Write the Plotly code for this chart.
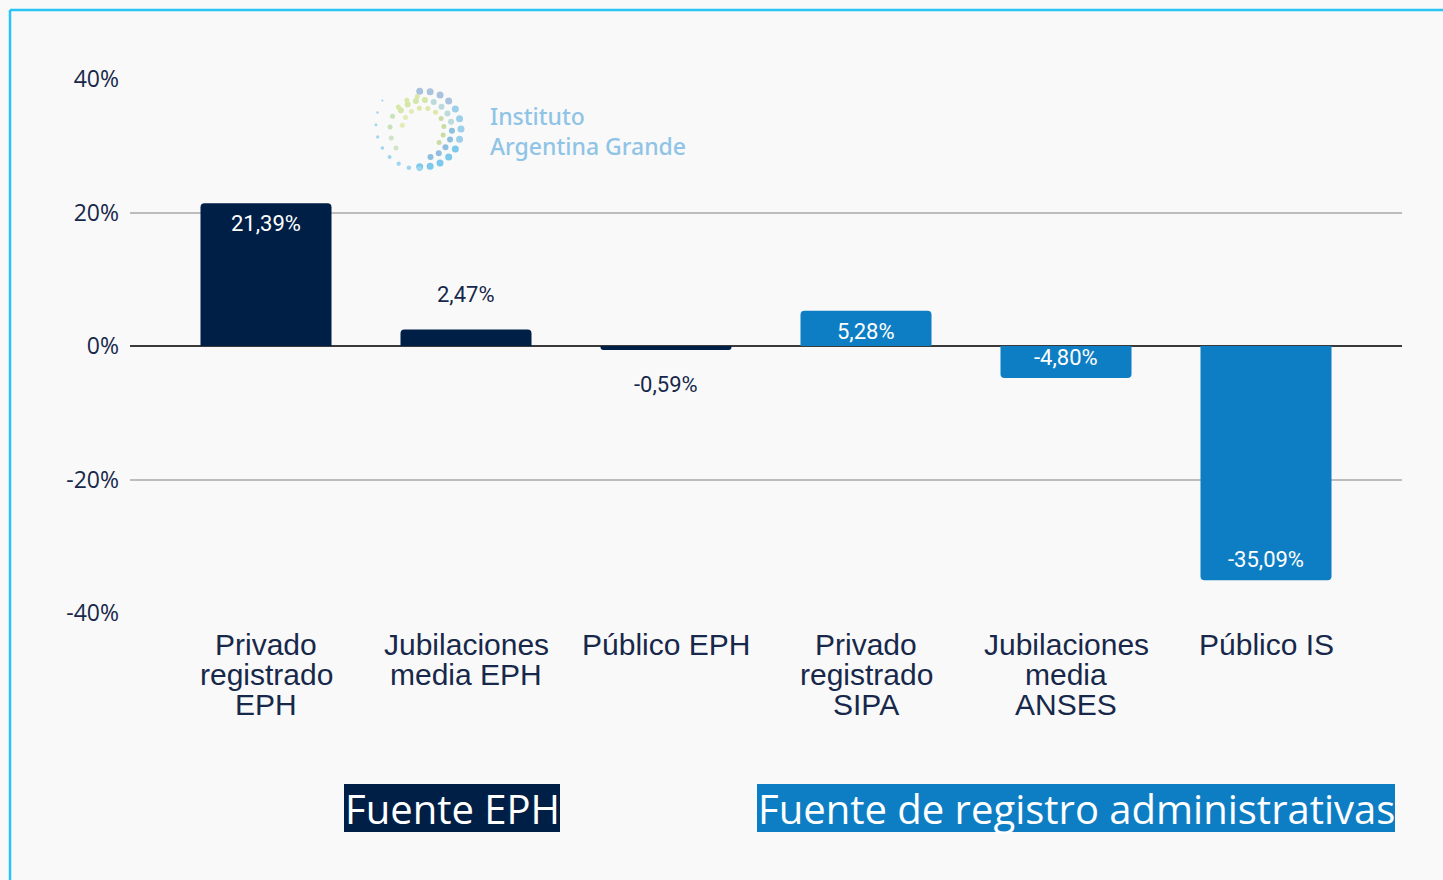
import math
import plotly.graph_objects as go

# ---------------- data ----------------
categories = ["Privado<br>registrado<br>EPH", "Jubilaciones<br>media EPH", "Público EPH",
              "Privado<br>registrado<br>SIPA", "Jubilaciones<br>media<br>ANSES", "Público IS"]
values = [21.39, 2.47, -0.59, 5.28, -4.80, -35.09]
source_group = ["EPH", "EPH", "EPH", "Admin", "Admin", "Admin"]
label_inside = [True, False, False, True, True, True]
tick_values = [-40, -20, 0, 20, 40]
tick_labels = ["-40%", "-20%", "0%", "20%", "40%"]
source_titles = ["Fuente EPH", "Fuente de registro administrativas"]
logo_text = "Instituto<br>Argentina Grande"

# ---------------- style ----------------
W, H = 1443, 880
L, R, T, B = 130, 41, 79, 267
PW, PH = W - L - R, H - T - B
NAVY = "#001f47"
BLUE = "#0e7ec4"
TXT = "#17284a"
BG = "#f9f9f9"
group_color = {"EPH": NAVY, "Admin": BLUE}


def px(x):
    return (x - L) / PW


def py(y):
    return (H - B - y) / PH


fig = go.Figure()
fig.add_trace(go.Bar(
    x=list(range(len(values))), y=values, width=0.655,
    marker=dict(color=[group_color[g] for g in source_group], cornerradius=4, line=dict(width=0)),
    hoverinfo="skip", showlegend=False,
))

annotations = []
# value labels
for i, v in enumerate(values):
    txt = f"{v:.2f}".replace(".", ",") + "%"
    if label_inside[i]:
        annotations.append(dict(x=i, y=v, xref="x", yref="y", text=txt, showarrow=False,
                                xanchor="center",
                                yanchor="top" if v >= 0 else "bottom",
                                yshift=-6 if v >= 0 else 6,
                                font=dict(family="Roboto", size=22, color="white")))
    else:
        annotations.append(dict(x=i, y=v, xref="x", yref="y", text=txt, showarrow=False,
                                xanchor="center", yanchor="middle", yshift=35 if v >= 0 else -35,
                                font=dict(family="Roboto", size=22, color=TXT,
                                          shadow="0px 0px 3px white, 0px 0px 3px white")))

# category labels (one annotation per line to keep tight line spacing)
for i, c in enumerate(categories):
    for k, line in enumerate(c.split("<br>")):
        annotations.append(dict(x=i, y=0, xref="x", yref="paper", text=line, showarrow=False,
                                xanchor="center", yanchor="middle", yshift=-(31 + 30 * k),
                                font=dict(family="Liberation Sans", size=30, color=TXT)))

shapes = []
# source boxes
box_specs = [(344, 560, NAVY), (757, 1395, BLUE)]
for (x0, x1, col), title in zip(box_specs, source_titles):
    shapes.append(dict(type="rect", xref="paper", yref="paper", x0=px(x0), x1=px(x1),
                       y0=py(832), y1=py(784), fillcolor=col, line=dict(width=0)))
    annotations.append(dict(x=px((x0 + x1) / 2), y=py(808), xref="paper", yref="paper", text=title,
                            showarrow=False, xanchor="center", yanchor="middle",
                            font=dict(family="Open Sans", size=40, color="white")))

# logo text
annotations.append(dict(x=px(488), y=py(131), xref="paper", yref="paper", text=logo_text,
                        showarrow=False, xanchor="left", yanchor="middle", align="left",
                        font=dict(family="Noto Sans", size=23, color="#90c4e6", weight=500)))

# frame border (cyan)
shapes.append(dict(type="line", xref="paper", yref="paper", x0=px(10), x1=px(W + 5), y0=py(10), y1=py(10),
                   line=dict(color="#27c4f5", width=2.5)))
shapes.append(dict(type="line", xref="paper", yref="paper", x0=px(10), x1=px(10), y0=py(10), y1=py(H + 5),
                   line=dict(color="#27c4f5", width=2.5)))

# decorative logo dots (spiral ring)
cx, cy = 423, 129
rows = [
    (38, -95, 95, 13, 7, ["#7cc9ec", "#9ccfe9", "#a9c3dc"]),
    (29, -75, 140, 13, 6, ["#8dbfe0", "#bcd9dc", "#d4e6a8"]),
    (21, -40, 170, 10, 5, ["#c9dca5", "#dde9a8", "#e3ebb6"]),
    (33, 100, 215, 7, 5, ["#d9e8a6", "#c8e2b8", "#cfe3c9"]),
]
for r, a0, a1, n, s, cols in rows:
    for j in range(n):
        a = math.radians(a0 + (a1 - a0) * j / (n - 1))
        x = cx + r * math.cos(a)
        y = cy - r * math.sin(a)
        col = cols[min(len(cols) - 1, j * len(cols) // n)]
        shapes.append(dict(type="circle", xref="paper", yref="paper", xsizemode="pixel", ysizemode="pixel",
                           xanchor=px(x), yanchor=py(y), x0=-s / 2, x1=s / 2, y0=-s / 2, y1=s / 2,
                           fillcolor=col, line=dict(width=0), layer="above"))
# tail
for j in range(9):
    a = math.radians(-95 - 15 * j)
    r = 40 + 1.2 * j
    x = cx + r * math.cos(a)
    y = cy - r * math.sin(a)
    s = 5 - j * 0.35
    shapes.append(dict(type="circle", xref="paper", yref="paper", xsizemode="pixel", ysizemode="pixel",
                       xanchor=px(x), yanchor=py(y), x0=-s / 2, x1=s / 2, y0=-s / 2, y1=s / 2,
                       fillcolor="#9fd6ef", line=dict(width=0), layer="above"))

fig.update_layout(
    width=W, height=H, autosize=False,
    margin=dict(l=L, r=R, t=T, b=B, pad=0),
    paper_bgcolor=BG, plot_bgcolor=BG,
    annotations=annotations, shapes=shapes,
    xaxis=dict(range=[-0.68, 5.68], showticklabels=False, showgrid=False, zeroline=False,
               showline=False, ticks="", fixedrange=True),
    yaxis=dict(range=[-40, 40], tickvals=tick_values, ticktext=tick_labels,
               showgrid=True, gridcolor="#bdbdbd", gridwidth=2,
               zeroline=True, zerolinecolor="#3a3a3a", zerolinewidth=1.5,
               showline=False, ticks="", ticklabelstandoff=10,
               tickfont=dict(family="Open Sans", size=23, color=TXT), fixedrange=True),
)

fig.write_html(
    "out.html",
    config={"displayModeBar": False},
    post_script="document.body.style.margin='0';document.body.style.background='#f9f9f9';",
)
